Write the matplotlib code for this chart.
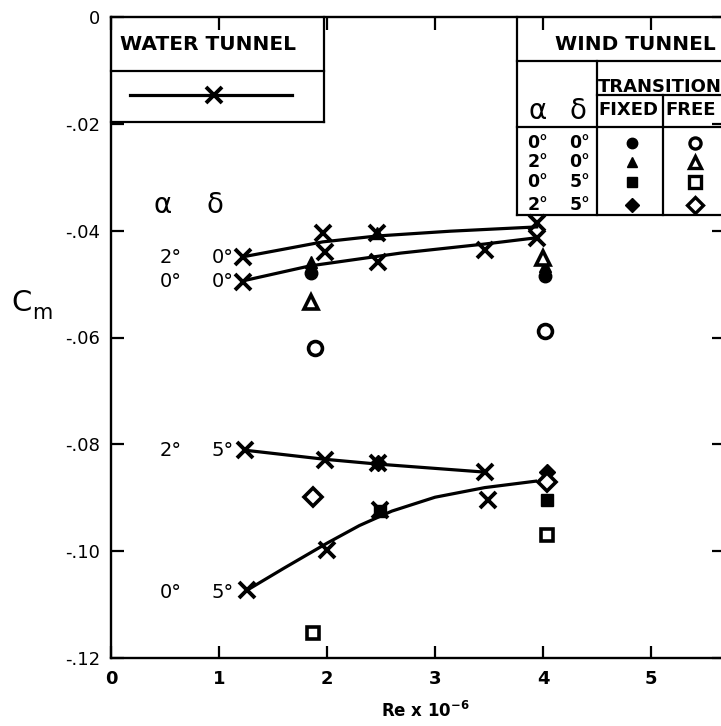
import numpy as np
import matplotlib
matplotlib.use("Agg")
import matplotlib.pyplot as plt

# water tunnel: measured points (X) for each alpha/delta case
wt_2_0_re = [1.22, 1.96, 2.46, 3.94]
wt_2_0_cm = [-0.0449, -0.0404, -0.0404, -0.0386]
wt_0_0_re = [1.22, 1.98, 2.47, 3.46, 3.94]
wt_0_0_cm = [-0.0496, -0.0440, -0.0459, -0.0436, -0.0414]
wt_2_5_re = [1.24, 1.98, 2.47, 3.46]
wt_2_5_cm = [-0.0811, -0.0829, -0.0835, -0.0852]
wt_0_5_re = [1.26, 2.00, 2.49, 3.49]
wt_0_5_cm = [-0.1073, -0.0998, -0.0923, -0.0904]

# faired curves through the water tunnel data
fair_2_0_re = [1.22, 1.75, 1.96, 2.46, 3.14, 3.94]
fair_2_0_cm = [-0.0449, -0.0429, -0.0421, -0.0410, -0.0401, -0.0393]
fair_0_0_re = [1.22, 1.84, 2.68, 3.46, 3.91]
fair_0_0_cm = [-0.0494, -0.0466, -0.0442, -0.0425, -0.0414]
fair_2_5_re = [1.24, 1.98, 2.47, 3.46]
fair_2_5_cm = [-0.0811, -0.0828, -0.0837, -0.0852]
fair_0_5_re = [1.26, 1.60, 2.00, 2.30, 2.60, 3.00, 3.46, 3.93]
fair_0_5_cm = [-0.1073, -0.1032, -0.0985, -0.0952, -0.0925, -0.0899, -0.0881, -0.0869]

# wind tunnel, transition fixed (filled) / free (open)
fix_0_0_re = [1.85, 4.02]
fix_0_0_cm = [-0.0479, -0.0485]
fix_2_0_re = [1.85, 2.46, 4.02]
fix_2_0_cm = [-0.0459, -0.0404, -0.0466]
fix_0_5_re = [2.49, 4.04]
fix_0_5_cm = [-0.0924, -0.0904]
fix_2_5_re = [2.47, 4.04]
fix_2_5_cm = [-0.0835, -0.0852]
free_0_0_re = [1.89, 4.02]
free_0_0_cm = [-0.0620, -0.0588]
free_2_0_re = [1.85, 4.00]
free_2_0_cm = [-0.0534, -0.0451]
free_0_5_re = [1.87, 4.04]
free_0_5_cm = [-0.1153, -0.0970]
free_2_5_re = [1.87, 4.04]
free_2_5_cm = [-0.0899, -0.0870]

yticks = [0, -0.02, -0.04, -0.06, -0.08, -0.10, -0.12]
ytick_labels = ["0", "-.02", "-.04", "-.06", "-.08", "-.10", "-.12"]
xticks = [0, 1, 2, 3, 4, 5]

fig = plt.figure(figsize=(7.21, 7.26), dpi=100)
ax = fig.add_axes([111 / 721, 68 / 726, 612.5 / 721, 641 / 726])
ax.set_xlim(0, 5.67)
ax.set_ylim(-0.12, 0)

for s in ax.spines.values():
    s.set_linewidth(1.7)
ax.tick_params(which="both", direction="in", length=9, width=1.6,
               top=True, right=True, labelsize=13)
ax.tick_params(axis="x", pad=9)
ax.tick_params(axis="y", pad=8)
ax.set_xticks(xticks)
ax.set_xticklabels([str(v) for v in xticks], fontweight="bold")
ax.set_yticks(yticks)
ax.set_yticklabels(ytick_labels)

lw = 2.3
for re, cm in [(fair_2_0_re, fair_2_0_cm), (fair_0_0_re, fair_0_0_cm),
               (fair_2_5_re, fair_2_5_cm), (fair_0_5_re, fair_0_5_cm)]:
    ax.plot(re, cm, color="black", lw=lw, zorder=3, solid_joinstyle="round")

xkw = dict(ls="none", marker="x", ms=12, mew=2.8, color="black", zorder=4)
for re, cm in [(wt_2_0_re, wt_2_0_cm), (wt_0_0_re, wt_0_0_cm),
               (wt_2_5_re, wt_2_5_cm), (wt_0_5_re, wt_0_5_cm)]:
    ax.plot(re, cm, **xkw)

filled = dict(ls="none", color="black", zorder=5)
ax.plot(fix_0_0_re, fix_0_0_cm, marker="o", ms=9, **filled)
ax.plot(fix_2_0_re, fix_2_0_cm, marker="^", ms=9, **filled)
ax.plot(fix_0_5_re, fix_0_5_cm, marker="s", ms=8, **filled)
ax.plot(fix_2_5_re, fix_2_5_cm, marker="D", ms=8, **filled)

hollow = dict(ls="none", mfc="white", mec="black", mew=2.6, zorder=5)
ax.plot(free_0_0_re, free_0_0_cm, marker="o", ms=10, **hollow)
ax.plot(free_2_0_re, free_2_0_cm, marker="^", ms=10, **hollow)
ax.plot(free_0_5_re, free_0_5_cm, marker="s", ms=9, **hollow)
ax.plot(free_2_5_re, free_2_5_cm, marker="D", ms=9, **hollow)

# curve labels
ax.text(0.48, -0.0352, "\u03b1", fontsize=20, ha="center", va="center")
ax.text(0.96, -0.0352, "\u03b4", fontsize=20, ha="center", va="center")
for a, d, y in [("2\u00b0", "0\u00b0", -0.0451), ("0\u00b0", "0\u00b0", -0.0496),
                ("2\u00b0", "5\u00b0", -0.0811), ("0\u00b0", "5\u00b0", -0.1078)]:
    ax.text(0.55, y, a, fontsize=14, ha="center", va="center")
    ax.text(1.03, y, d, fontsize=14, ha="center", va="center")

# axis labels
fig.text(22 / 721, 1 - 303 / 726, "C", fontsize=21, ha="center", va="center")
fig.text(42 / 721, 1 - 313 / 726, "m", fontsize=15, ha="center", va="center")
fig.text(425 / 721, 1 - 711 / 726, r"Re x 10$^{\mathbf{-6}}$", fontsize=12,
         fontweight="bold", ha="center", va="center")

# water tunnel key
box = dict(color="black", lw=1.6, zorder=6, clip_on=False)
ax.plot([1.97, 1.97], [0, -0.0197], **box)
ax.plot([0, 1.97], [-0.0197, -0.0197], **box)
ax.plot([0, 1.97], [-0.0101, -0.0101], **box)
ax.text(0.9, -0.0052, "WATER TUNNEL", fontsize=14.5, fontweight="bold",
        ha="center", va="center")
ax.plot([0.18, 1.68], [-0.0146, -0.0146], color="black", lw=lw)
ax.plot([0.95], [-0.0146], **xkw)

# wind tunnel key
ax.plot([3.76, 3.76], [0, -0.0371], **box)
ax.plot([3.76, 5.67], [-0.0082, -0.0082], **box)
ax.plot([4.50, 5.67], [-0.0146, -0.0146], **box)
ax.plot([3.76, 5.67], [-0.0206, -0.0206], **box)
ax.plot([4.50, 4.50], [-0.0082, -0.0371], **box)
ax.plot([5.11, 5.11], [-0.0146, -0.0371], **box)
ax.plot([3.76, 5.67], [-0.0371, -0.0371], **box)
ax.text(4.85, -0.0051, "WIND TUNNEL", fontsize=14.5, fontweight="bold",
        ha="center", va="center")
ax.text(4.51, -0.0131, "TRANSITION", fontsize=13, fontweight="bold",
        ha="left", va="center")
ax.text(4.51, -0.0174, "FIXED", fontsize=13, fontweight="bold",
        ha="left", va="center")
ax.text(5.13, -0.0174, "FREE", fontsize=13, fontweight="bold",
        ha="left", va="center")
ax.text(3.95, -0.0176, "\u03b1", fontsize=20, ha="center", va="center")
ax.text(4.32, -0.0176, "\u03b4", fontsize=20, ha="center", va="center")

rows_y = [-0.0236, -0.0271, -0.0309, -0.0352]
rows_a = ["0\u00b0", "2\u00b0", "0\u00b0", "2\u00b0"]
rows_d = ["0\u00b0", "0\u00b0", "5\u00b0", "5\u00b0"]
rows_m = ["o", "^", "s", "D"]
for y, a, d, m in zip(rows_y, rows_a, rows_d, rows_m):
    ax.text(3.95, y, a, fontsize=12.5, fontweight="bold", ha="center", va="center")
    ax.text(4.34, y, d, fontsize=12.5, fontweight="bold", ha="center", va="center")
    ax.plot([4.82], [y], marker=m, ms=7.5, ls="none", color="black", zorder=7)
    ax.plot([5.41], [y], marker=m, ms=8, ls="none", mfc="white", mec="black",
            mew=2.4, zorder=7)

fig.savefig("out.png", dpi=100)
